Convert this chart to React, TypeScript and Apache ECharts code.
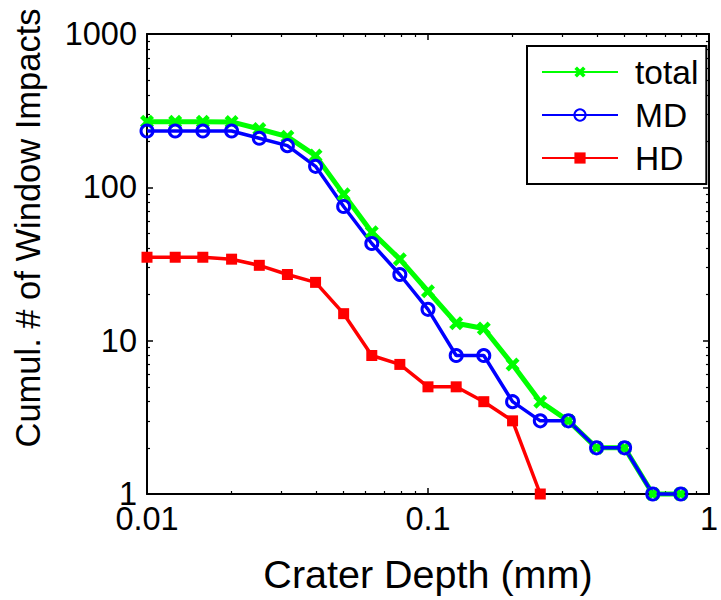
import React, { useEffect, useRef } from "react";
import * as echarts from "echarts";

const depths = [0.01, 0.0126, 0.0158, 0.02, 0.0251, 0.0316, 0.0398, 0.0501, 0.0631, 0.0794, 0.1, 0.126, 0.158, 0.2, 0.251, 0.316, 0.398, 0.501, 0.631, 0.794];
const totalValues = [268, 268, 268, 267, 240, 214, 161, 90, 51, 34, 21, 13, 12, 7, 4, 3, 2, 2, 1, 1];
const mdValues = [233, 233, 233, 233, 209, 187, 137, 75, 43, 27, 16, 8, 8, 4, 3, 3, 2, 2, 1, 1];
const hdValues = [35, 35, 35, 34, 31, 27, 24, 15, 8, 7, 5, 5, 4, 3, 1];
const seriesNames = ["total", "MD", "HD"];
const xTitle = "Crater Depth (mm)";
const yTitle = "Cumul. # of Window Impacts";

const FONT = "Liberation Sans, Arial, Helvetica, sans-serif";
const X_MARK = "path://M0,2.3L2.3,0L5,2.7L7.7,0L10,2.3L7.3,5L10,7.7L7.7,10L5,7.3L2.3,10L0,7.7L2.7,5Z";

const fmt = (v: number) => String(+Number(v).toPrecision(6));

function pairs(vals: number[]) {
  return vals.map((v, i) => [depths[i], v]);
}

export default function App() {
  const ref = useRef<HTMLDivElement>(null);
  useEffect(() => {
    if (!ref.current) return;
    const chart = echarts.init(ref.current, undefined, { renderer: "svg" });
    const axisCommon = {
      axisLine: { show: true, lineStyle: { color: "#000", width: 2 } },
      axisTick: { show: true, inside: true, length: 6, lineStyle: { color: "#000", width: 1.5 } },
      minorTick: { show: true, splitNumber: 9, length: 3, lineStyle: { color: "#000", width: 1.2 } },
      splitLine: { show: false },
      minorSplitLine: { show: false },
    };
    chart.setOption({
      animation: false,
      backgroundColor: "#fff",
      textStyle: { fontFamily: FONT },
      grid: { left: 147, right: 4, top: 34, bottom: 106, containLabel: false },
      graphic: [
        {
          type: "text",
          x: 28,
          y: 228,
          rotation: Math.PI / 2,
          style: {
            text: yTitle,
            fontSize: 34.5,
            fontFamily: FONT,
            fill: "#000",
            textAlign: "center",
            textVerticalAlign: "middle",
          },
        },
      ],
      xAxis: [
        {
          type: "log",
          logBase: 10,
          min: 0.01,
          max: 1,
          position: "bottom",
          name: xTitle,
          nameLocation: "middle",
          nameGap: 60,
          nameTextStyle: { fontSize: 39.5, color: "#000", fontFamily: FONT, verticalAlign: "top" },
          axisLabel: { show: true, margin: 8, fontSize: 32.5, color: "#000", fontFamily: FONT, formatter: fmt },
          ...axisCommon,
        },
        {
          type: "log",
          logBase: 10,
          min: 0.01,
          max: 1,
          position: "top",
          axisLabel: { show: false },
          ...axisCommon,
        },
      ],
      yAxis: [
        {
          type: "log",
          logBase: 10,
          min: 1,
          max: 1000,
          position: "left",
          axisLabel: { show: true, margin: 10, fontSize: 32.5, color: "#000", fontFamily: FONT, formatter: fmt },
          ...axisCommon,
        },
        {
          type: "log",
          logBase: 10,
          min: 1,
          max: 1000,
          position: "right",
          axisLabel: { show: false },
          ...axisCommon,
        },
      ],
      legend: {
        left: 527,
        top: 46,
        orient: "vertical",
        data: seriesNames,
        itemWidth: 76,
        itemHeight: 14,
        itemGap: 9,
        padding: [9, 8, 9, 14],
        borderColor: "#000",
        borderWidth: 2,
        backgroundColor: "#fff",
        textStyle: { fontSize: 33.5, color: "#000", fontFamily: FONT, padding: [0, 0, 0, 12] },
      },
      series: [
        {
          name: seriesNames[0],
          type: "line",
          data: pairs(totalValues),
          symbol: X_MARK,
          symbolSize: 14,
          clip: false,
          lineStyle: { color: "#00ff00", width: 5 },
          itemStyle: { color: "#00ff00" },
        },
        {
          name: seriesNames[1],
          type: "line",
          data: pairs(mdValues),
          symbol: "circle",
          symbolSize: 12,
          clip: false,
          lineStyle: { color: "#0000ff", width: 3.5 },
          itemStyle: { color: "rgba(255,255,255,0)", borderColor: "#0000ff", borderWidth: 3 },
        },
        {
          name: seriesNames[2],
          type: "line",
          data: pairs(hdValues),
          symbol: "rect",
          symbolSize: 11,
          clip: false,
          lineStyle: { color: "#ff0000", width: 3.5 },
          itemStyle: { color: "#ff0000" },
        },
      ],
    });
    return () => chart.dispose();
  }, []);
  return <div ref={ref} style={{ width: 721, height: 600, position: "absolute", left: 0, top: 0 }} />;
}
